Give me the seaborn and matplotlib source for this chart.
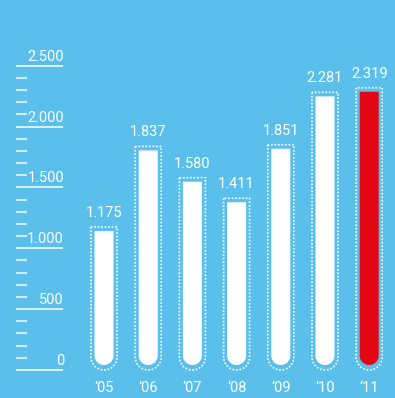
import numpy as np
import pandas as pd
import matplotlib
matplotlib.use("Agg")
import matplotlib.pyplot as plt
from matplotlib.path import Path
from matplotlib.patches import PathPatch
import seaborn as sns

# ---- data ----
years = ["\u201805", "\u201806", "\u201807", "\u201808", "\u201809", "\u201810", "\u201811"]
values = [1175, 1837, 1580, 1411, 1851, 2281, 2319]
y_major = [0, 500, 1000, 1500, 2000, 2500]
y_minor = [v for v in range(100, 2500, 100) if v % 500 != 0]

BG = "#5BBFEC"
RED = "#E30613"
WHITE = "#FFFFFF"

sns.set_theme(style="white")
plt.rcParams["font.family"] = ["Roboto", "DejaVu Sans"]
FW = "normal"
FS = 10.5

W, H = 395, 398
fig = plt.figure(figsize=(W / 100, H / 100), dpi=100)
fig.patch.set_facecolor(BG)
ax = fig.add_axes([0, 0, 1, 1])
ax.set_facecolor(BG)

df = pd.DataFrame({"year": years, "value": values})
colors = [WHITE] * (len(years) - 1) + [RED]
sns.barplot(data=df, x="year", y="value", hue="year", palette=colors,
            legend=False, width=0.43, errorbar=None, ax=ax, saturation=1)

ylo, yhi = -230, 3040
xlo, xhi = -2.353, 6.584
ax.set_ylim(ylo, yhi)
ax.set_xlim(xlo, xhi)
ax.axis("off")

px_x = W / (xhi - xlo)   # pixels per x unit
px_y = H / (yhi - ylo)   # pixels per y unit


def rounded_path(xc, hw, yb, yt):
    ry = hw * px_x / px_y
    verts = [(xc - hw, yt), (xc - hw, yb + ry)]
    for t in np.linspace(np.pi, 2 * np.pi, 30):
        verts.append((xc + hw * np.cos(t), yb + ry + ry * np.sin(t)))
    verts.append((xc + hw, yt))
    verts.append((xc - hw, yt))
    codes = [Path.MOVETO] + [Path.LINETO] * (len(verts) - 1)
    return Path(verts, codes)


bars = list(ax.patches)
for p in bars:
    xc = p.get_x() + p.get_width() / 2
    top = p.get_y() + p.get_height()
    fc = p.get_facecolor()
    p.remove()
    hw_bar = 9.5 / px_x
    ax.add_patch(PathPatch(rounded_path(xc, hw_bar, 5 / px_y, top - 4 / px_y),
                           facecolor=fc, edgecolor="none", zorder=3))
    hw_out = 13 / px_x
    ax.add_patch(PathPatch(rounded_path(xc, hw_out, 0, top),
                           facecolor="none", edgecolor=WHITE, lw=1.2,
                           linestyle=(0, (1, 1.1)), zorder=3))
    lab = f"{int(round(top)):,}".replace(",", ".")
    ax.text(xc, top + 10 / px_y, lab, ha="center", va="baseline",
            color=WHITE, fontsize=FS, fontweight=FW, zorder=4)

for i, yr in enumerate(years):
    ax.text(i, -18 / px_y, yr, ha="center", va="center", color=WHITE,
            fontsize=FS, fontweight=FW)

tr = ax.get_yaxis_transform()
x0, x1, xm = 16 / W, 63 / W, 27 / W
for v in y_major:
    ax.plot([x0, x1], [v, v], transform=tr, color=WHITE, lw=1.1,
            solid_capstyle="butt", zorder=2)
    ax.text(x1 + 1 / W, v + 5 / px_y, f"{v:,}".replace(",", "."),
            transform=tr, ha="right", va="baseline", color=WHITE,
            fontsize=FS, fontweight=FW)
for v in y_minor:
    ax.plot([x0, xm], [v, v], transform=tr, color=WHITE, alpha=0.7, lw=1.5,
            solid_capstyle="butt", zorder=2)

fig.savefig("out.png", dpi=100, facecolor=BG)
